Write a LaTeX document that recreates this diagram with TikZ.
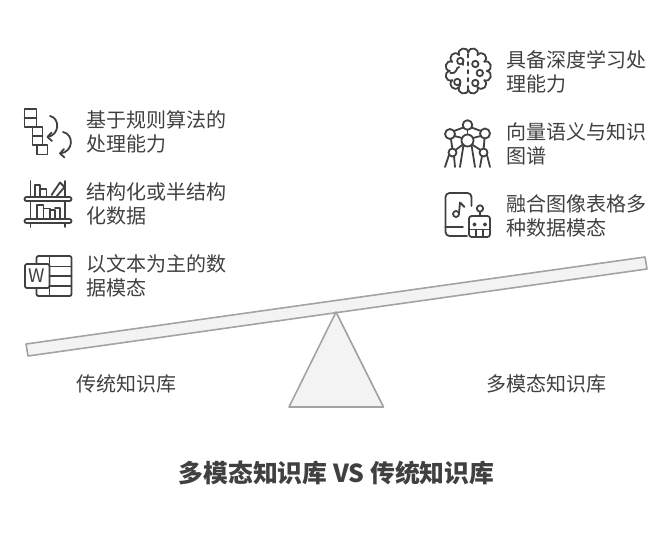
\documentclass[tikz,border=0pt]{standalone}
\usepackage{fontspec}
\setmainfont{Noto Sans CJK SC}
\definecolor{inkgray}{HTML}{404040}
\definecolor{beamgray}{HTML}{A3A3A3}
\definecolor{beamfill}{HTML}{F3F3F3}
\tikzset{
  iconline/.style={draw=inkgray, line width=1.35pt, line cap=round, line join=round},
  sidetext/.style={anchor=west, align=left, text=inkgray, font=\fontsize{15pt}{18pt}\selectfont, inner sep=0pt},
  basetext/.style={anchor=center, text=inkgray, font=\fontsize{15pt}{18pt}\selectfont, inner sep=0pt},
  beamline/.style={draw=beamgray, fill=beamfill, line width=1.2pt, line join=round}
}
\begin{document}
\begin{tikzpicture}[x=0.75pt,y=-0.75pt]
\useasboundingbox (0,0) rectangle (672,540);
% seesaw
\draw[beamline] (26,344) -- (645,257) -- (647,269) -- (28,356) -- cycle;
\draw[beamline] (336,312) -- (383.5,407) -- (289,407) -- cycle;
% texts
\foreach \x/\y/\name/\txt in
{86/132/rules/基于规则算法的\\处理能力,
 86/204/semi/结构化或半结构\\化数据,
 86/276/word/以文本为主的数\\据模态,
 506/72/deep/具备深度学习处\\理能力,
 506/144/graph/向量语义与知识\\图谱,
 506/216/fusion/融合图像表格多\\种数据模态}
\node[sidetext] (\name) at (\x,\y) {\txt};
\node[basetext] (oldlabel) at (126,384) {传统知识库};
\node[basetext] (newlabel) at (546,384) {多模态知识库};
\node[basetext, font=\fontsize{18.6pt}{22pt}\selectfont\bfseries] (title) at (336.5,473) {多模态知识库 VS 传统知识库};
% rule icon
\draw[iconline] (24.5,109) rectangle (36.5,127);
\draw[iconline] (24.5,118) -- (36.5,118);
\draw[iconline] (32.5,127) rectangle (42.5,145);
\draw[iconline] (32.5,136) -- (42.5,136);
\draw[iconline] (37,145) rectangle (47.5,154.5);
\draw[iconline] (50,116) .. controls (60,118) and (60,135) .. (47.5,137);
\draw[iconline] (51.5,132.5) -- (47.5,137) -- (52,141);
\draw[iconline] (63,132) .. controls (74,134) and (74,152) .. (60,153.5);
\draw[iconline] (64,149) -- (60,153.5) -- (64.5,157.5);
% shelf icon
\foreach \y in {199,221}
\draw[iconline, rounded corners=1.5pt, fill=white] (24.5,\y-2) rectangle (71.5,\y+2);
\foreach \x in {30.5,65}{
\draw[iconline] (\x,181) -- (\x,197);
\draw[iconline] (\x,201) -- (\x,219);
\draw[iconline] (\x,223) -- (\x,227);
}
\draw[iconline] (35,197) -- (35,185) -- (40,185) -- (40,197);
\draw[iconline] (40,189) -- (46.5,189) -- (46.5,197);
\draw[iconline] (51.5,195) -- (60,182.5) -- (64.5,187) -- (56,197);
\draw[iconline] (37,219) -- (37,205) -- (43.5,205) -- (43.5,219);
\draw[iconline] (43.5,208.5) -- (50,208.5) -- (50,219);
\draw[iconline] (50,210) -- (55,210) -- (55,219);
\draw[iconline] (55,208) -- (60,208) -- (60,219);
% word icon
\draw[iconline, rounded corners=1.5pt] (36.5,264) -- (36.5,256) -- (71.5,256) -- (71.5,296) -- (36.5,296) -- (36.5,288);
\draw[iconline, rounded corners=1.5pt] (25,264) rectangle (49.5,288);
\draw[iconline] (49.5,256) -- (49.5,296);
\foreach \y in {266.5,276,286}
\draw[iconline] (49.5,\y) -- (71.5,\y);
\node[text=inkgray, inner sep=0pt, font=\fontsize{14pt}{14pt}\selectfont] (wordmark) at (37,276) {W};
% brain icon
\begin{scope}[shift={(468.3,71)}]
\foreach \a in {0,30,...,330}
\draw[iconline] (\a:18.5) .. controls ({\a+3}:25.5) and ({\a+27}:25.5) .. ({\a+30}:18.5);
\foreach \x/\y in {-8/-10,7/-7,11.5/2,-11/11,7/12}
\draw[iconline] (\x,\y) circle (3.2);
\draw[iconline] (-18,2) .. controls (-10,3) and (-13,-4) .. (-9,-4);
\draw[iconline, dash pattern=on 2.5pt off 3.5pt] (0,-17) -- (0,18);
\draw[iconline] (-5,-10) -- (-5,-6);
\draw[iconline] (-8,11) -- (-8,15);
\end{scope}
% atomium icon
\foreach \x/\y/\r in {467.5/125/4.8,450/134/5,485/133.5/5,467.5/140.5/6,452.5/152.5/4,483.5/152.5/4}
\draw[iconline] (\x,\y) circle (\r);
\draw[iconline] (463.5,127.5) -- (454,131);
\draw[iconline] (471.5,127.5) -- (481,131);
\draw[iconline] (467.5,130) -- (467.5,134.5);
\draw[iconline] (454.5,136) -- (462,138);
\draw[iconline] (480.5,136) -- (473,138);
\draw[iconline] (451,139) -- (452.3,148.5);
\draw[iconline] (484.5,138.5) -- (483.7,148.5);
\draw[iconline] (455.5,150) -- (463,144.5);
\draw[iconline] (480.5,150) -- (472,144.5);
\draw[iconline] (449,155) -- (445,167);
\draw[iconline] (454,156) -- (455,167);
\draw[iconline] (463.5,145) -- (460,167);
\draw[iconline] (471.5,145) -- (475,167);
\draw[iconline] (482,156) -- (480,167);
\draw[iconline] (487,155) -- (490,167);
% music robot icon
\draw[iconline, rounded corners=3pt] (471.5,206) -- (471.5,193) -- (445.5,193) -- (445.5,236) -- (467,236);
\draw[iconline] (445.5,227) -- (463,227);
\draw[iconline] (456,214) circle (3);
\draw[iconline] (459,213.5) -- (460,202.5) -- (464.5,207);
\draw[iconline] (480,208.5) circle (3.2);
\draw[iconline] (480,212) -- (480,216);
\draw[iconline, rounded corners=2pt] (469,216) rectangle (490,237);
\foreach \x in {474.5,485}
\draw[iconline] (\x,224.5) circle (1.2);
\draw[iconline] (469,229.5) -- (490,229.5);
\foreach \x in {476,483}
\draw[iconline] (\x,229.5) -- (\x,237);
\end{tikzpicture}
\end{document}
